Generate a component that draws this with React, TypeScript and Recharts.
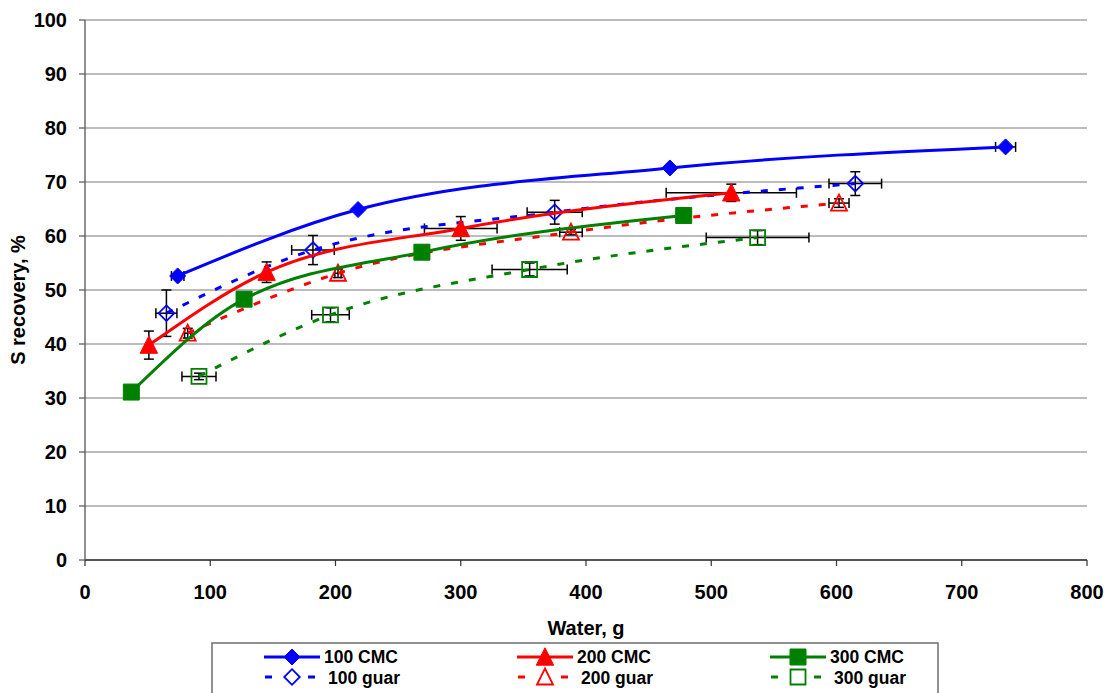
import React from 'react';
import { ScatterChart, Scatter, XAxis, YAxis, CartesianGrid, ErrorBar, Label } from 'recharts';

const FONT = '"Liberation Sans", Arial, sans-serif';

const xTicks = [0, 100, 200, 300, 400, 500, 600, 700, 800];
const yTicks = [0, 10, 20, 30, 40, 50, 60, 70, 80, 90, 100];

// 100 CMC
const cmc100X = [74, 218, 467, 735];
const cmc100Y = [52.6, 64.9, 72.6, 76.5];
const cmc100Ex = [5, 0, 0, 8];
const cmc100Ey = [0, 0, 0, 0];

// 100 guar
const guar100X = [65, 182, 375, 615];
const guar100Y = [45.7, 57.4, 64.4, 69.7];
const guar100Ex = [8.4, 17, 22, 21];
const guar100Ey = [4.3, 2.7, 2.2, 2.2];

// 200 CMC
const cmc200X = [51, 145, 300, 516];
const cmc200Y = [39.8, 53.3, 61.4, 68.0];
const cmc200Ex = [0, 0, 29, 52];
const cmc200Ey = [2.6, 1.9, 2.2, 1.6];

// 200 guar
const guar200X = [82, 202, 388, 602];
const guar200Y = [42.0, 53.1, 60.7, 66.1];
const guar200Ex = [2.5, 2.5, 9, 8];
const guar200Ey = [0.9, 0.8, 0.5, 0.8];

// 300 CMC
const cmc300X = [37, 127, 269, 478];
const cmc300Y = [31.1, 48.3, 57.0, 63.8];
const cmc300Ex = [0, 0, 0, 0];
const cmc300Ey = [0, 0, 0, 0];

// 300 guar
const guar300X = [91, 196, 355, 537];
const guar300Y = [34.0, 45.4, 53.8, 59.7];
const guar300Ex = [13.6, 15, 30, 41];
const guar300Ey = [0.6, 1.3, 1.2, 1.3];

const BLUE = '#0000FF';
const RED = '#FF0000';
const GREEN = '#008000';

const rows = (xs: number[], ys: number[], ex: number[], ey: number[]) =>
  xs.map((x, i) => ({ x, y: ys[i], ex: ex[i], ey: ey[i] }));

type Kind = 'diamond' | 'triangle' | 'square';

const markerPath = (kind: Kind, cx: number, cy: number, h: number) => {
  if (kind === 'diamond') return `M${cx},${cy - h}L${cx + h},${cy}L${cx},${cy + h}L${cx - h},${cy}Z`;
  if (kind === 'triangle') return `M${cx},${cy - h - 0.5}L${cx + h},${cy + h - 0.5}L${cx - h},${cy + h - 0.5}Z`;
  return `M${cx - h},${cy - h}L${cx + h},${cy - h}L${cx + h},${cy + h}L${cx - h},${cy + h}Z`;
};

const Marker = ({ kind, color, filled, cx, cy }: { kind: Kind; color: string; filled: boolean; cx: number; cy: number }) => {
  if (filled) {
    const h = kind === 'diamond' ? 8 : kind === 'triangle' ? 8.7 : 8;
    return <path d={markerPath(kind, cx, cy, h)} fill={color} stroke={color} strokeWidth={1} />;
  }
  const h = kind === 'diamond' ? 7.8 : kind === 'triangle' ? 8 : 7.5;
  return <path d={markerPath(kind, cx, cy, h)} fill="none" stroke={color} strokeWidth={1.8} />;
};

const shapeFor = (kind: Kind, color: string, filled: boolean) => (props: any) => {
  const { cx, cy } = props;
  if (cx == null || cy == null) return <g />;
  return <Marker kind={kind} color={color} filled={filled} cx={cx} cy={cy} />;
};

const seriesDefs = [
  { name: '100 CMC', data: rows(cmc100X, cmc100Y, cmc100Ex, cmc100Ey), color: BLUE, kind: 'diamond' as Kind, filled: true },
  { name: '100 guar', data: rows(guar100X, guar100Y, guar100Ex, guar100Ey), color: BLUE, kind: 'diamond' as Kind, filled: false },
  { name: '200 CMC', data: rows(cmc200X, cmc200Y, cmc200Ex, cmc200Ey), color: RED, kind: 'triangle' as Kind, filled: true },
  { name: '200 guar', data: rows(guar200X, guar200Y, guar200Ex, guar200Ey), color: RED, kind: 'triangle' as Kind, filled: false },
  { name: '300 CMC', data: rows(cmc300X, cmc300Y, cmc300Ex, cmc300Ey), color: GREEN, kind: 'square' as Kind, filled: true },
  { name: '300 guar', data: rows(guar300X, guar300Y, guar300Ex, guar300Ey), color: GREEN, kind: 'square' as Kind, filled: false },
];

const tickStyle = { fill: '#000', fontSize: 20, fontWeight: 700, fontFamily: FONT };

const legendCols = [264, 517, 770];

const LegendOverlay = () => {
  const items = seriesDefs;
  return (
    <svg width={1109} height={693} style={{ position: 'absolute', left: 0, top: 0, pointerEvents: 'none' }}>
      <rect x={212} y={643} width={726} height={70} fill="#fff" stroke="#6e6e6e" strokeWidth={1.5} />
      {items.map((s, i) => {
        const col = Math.floor(i / 2);
        const row = i % 2;
        const x0 = legendCols[col];
        const cy = row === 0 ? 657 : 677;
        const base = row === 0 ? 663 : 683.5;
        return (
          <g key={s.name}>
            {row === 0 ? (
              <line x1={x0} y1={cy} x2={x0 + 56} y2={cy} stroke={s.color} strokeWidth={3} />
            ) : (
              <g>
                <line x1={x0 + 1} y1={cy} x2={x0 + 8} y2={cy} stroke={s.color} strokeWidth={3} />
                <line x1={x0 + 44} y1={cy} x2={x0 + 51} y2={cy} stroke={s.color} strokeWidth={3} />
              </g>
            )}
            <Marker kind={s.kind} color={s.color} filled={s.filled} cx={x0 + 28} cy={cy} />
            <text x={x0 + (row === 0 ? 60 : 64)} y={base} fontFamily={FONT} fontWeight={700} fontSize={17.5} fill="#000">
              {s.name}
            </text>
          </g>
        );
      })}
    </svg>
  );
};

export default function App() {
  return (
    <div style={{ position: 'absolute', left: 0, top: 0, width: 1109, height: 693, overflow: 'hidden', background: '#fff', fontFamily: FONT }}>
      <ScatterChart width={1109} height={693} margin={{ top: 20, right: 22, bottom: 53, left: 0 }}>
        <CartesianGrid horizontal vertical={false} stroke="#7a7a7a" strokeWidth={1.2} />
        <XAxis
          type="number"
          dataKey="x"
          domain={[0, 800]}
          ticks={xTicks}
          interval={0}
          allowDataOverflow
          height={80}
          tickSize={6}
          tickMargin={19}
          tick={tickStyle}
          axisLine={{ stroke: '#333', strokeWidth: 1.3 }}
          tickLine={{ stroke: '#333', strokeWidth: 1.2 }}
        >
          <Label value="Water, g" position="insideBottom" offset={5} style={{ fill: '#000', fontSize: 20, fontWeight: 700, fontFamily: FONT }} />
        </XAxis>
        <YAxis
          type="number"
          dataKey="y"
          domain={[0, 100]}
          ticks={yTicks}
          interval={0}
          allowDataOverflow
          width={85}
          tickSize={6}
          tickMargin={12}
          tick={tickStyle}
          axisLine={{ stroke: '#555', strokeWidth: 1.3 }}
          tickLine={{ stroke: '#555', strokeWidth: 1.2 }}
        >
          <Label
            content={() => (
              <text
                transform="translate(25,300) rotate(-90)"
                textAnchor="middle"
                fontFamily={FONT}
                fontWeight={700}
                fontSize={20}
                fill="#000"
              >
                S recovery, %
              </text>
            )}
          />
        </YAxis>
        {seriesDefs.map((s) => (
          <Scatter
            key={s.name}
            name={s.name}
            data={s.data}
            fill={s.color}
            isAnimationActive={false}
            line={{ stroke: s.color, strokeWidth: 3, strokeDasharray: s.filled ? undefined : '7 11' }}
            lineJointType="monotoneX"
            shape={shapeFor(s.kind, s.color, s.filled)}
            legendType="none"
          >
            <ErrorBar dataKey="ex" direction="x" width={5} stroke="#000" strokeWidth={1.5} />
            <ErrorBar dataKey="ey" direction="y" width={5} stroke="#000" strokeWidth={1.5} />
          </Scatter>
        ))}
      </ScatterChart>
      <LegendOverlay />
    </div>
  );
}
